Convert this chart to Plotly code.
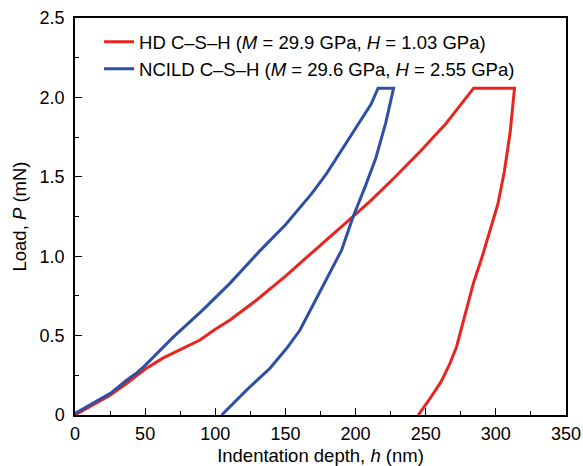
import plotly.graph_objects as go

# HD C-S-H: loading, hold, unloading
hd_depth = [0, 13, 25, 37, 44, 49.3, 62.6, 74.8, 89.1, 100, 110.5, 129.5, 150.5, 171,
            184.6, 197.9, 211.2, 227.1, 245.7, 264.3, 284.2, 313.3, 310.2, 306, 301.5,
            296, 290, 284, 280.3, 276.8, 272, 267.3, 261, 252, 244.7]
hd_load = [0, 0.063, 0.124, 0.2, 0.25, 0.285, 0.358, 0.41, 0.472, 0.54, 0.598, 0.724,
           0.877, 1.039, 1.143, 1.248, 1.353, 1.489, 1.656, 1.834, 2.058, 2.058, 1.78,
           1.53, 1.33, 1.16, 0.99, 0.83, 0.703, 0.577, 0.43, 0.325, 0.21, 0.09, 0]

# NCILD C-S-H: loading, hold, unloading
ncild_depth = [-2, 13, 25.5, 37, 44, 49.3, 70, 91, 110.4, 131.9, 150.2, 168.7, 179.3, 190,
               200.6, 211.2, 216, 227.1, 221.5, 214.5, 206.5, 198.3, 190.1, 178.2, 168.8,
               160.4, 150.9, 139, 122.3, 104.6]
ncild_load = [0, 0.073, 0.138, 0.22, 0.265, 0.306, 0.49, 0.66, 0.829, 1.035, 1.2, 1.394,
              1.52, 1.667, 1.813, 1.96, 2.058, 2.058, 1.84, 1.62, 1.43, 1.25, 1.039, 0.839,
              0.682, 0.535, 0.42, 0.294, 0.157, 0]

x_ticks = [0, 50, 100, 150, 200, 250, 300, 350]
x_labels = ["0", "50", "100", "150", "200", "250", "300", "350"]
y_ticks = [0, 0.5, 1.0, 1.5, 2.0, 2.5]
y_labels = ["0", "0.5", "1.0", "1.5", "2.0", "2.5"]

names = ["HD C–S–H (<i>M</i> = 29.9 GPa, <i>H</i> = 1.03 GPa)",
         "NCILD C–S–H (<i>M</i> = 29.6 GPa, <i>H</i> = 2.55 GPa)"]
colors = ["#E8251F", "#2F4EA6"]

fig = go.Figure()
fig.add_trace(go.Scatter(x=hd_depth, y=hd_load, mode="lines", name=names[0],
                         line=dict(color=colors[0], width=3)))
fig.add_trace(go.Scatter(x=ncild_depth, y=ncild_load, mode="lines", name=names[1],
                         line=dict(color=colors[1], width=3)))

font_family = "Liberation Sans, Arial, sans-serif"
axis_common = dict(showline=True, linecolor="black", linewidth=1.5, mirror=True,
                   ticks="inside", ticklen=7, tickwidth=1.3, tickcolor="black",
                   showgrid=False, zeroline=False, automargin=False,
                   tickfont=dict(size=18, color="black", family=font_family))

fig.update_xaxes(range=[0, 350], tickvals=x_ticks, ticktext=x_labels,
                 ticklabelstandoff=2,
                 minor=dict(ticks="inside", ticklen=4, tickwidth=1.3, tickcolor="black", dtick=25),
                 title=dict(text="Indentation depth, <i>h</i> (nm)", standoff=7,
                            font=dict(size=18.5, color="black", family=font_family)),
                 **axis_common)
fig.update_yaxes(range=[0, 2.5], tickvals=y_ticks, ticktext=y_labels,
                 ticklabelstandoff=5,
                 minor=dict(ticks="inside", ticklen=4, tickwidth=1.3, tickcolor="black", dtick=0.25),
                 title=dict(text="Load, <i>P</i> (mN)", standoff=8,
                            font=dict(size=18.5, color="black", family=font_family)),
                 **axis_common)

fig.update_layout(
    width=583, height=466,
    margin=dict(l=75, r=17, t=18, b=51),
    plot_bgcolor="white", paper_bgcolor="white",
    font=dict(family=font_family, size=18, color="black"),
    legend=dict(x=0.049, y=0.987, xanchor="left", yanchor="top",
                bgcolor="rgba(0,0,0,0)", font=dict(size=18.5), tracegroupgap=0),
)

fig.write_html("out.html", config={"displayModeBar": False},
               post_script="document.body.style.margin='0';")
